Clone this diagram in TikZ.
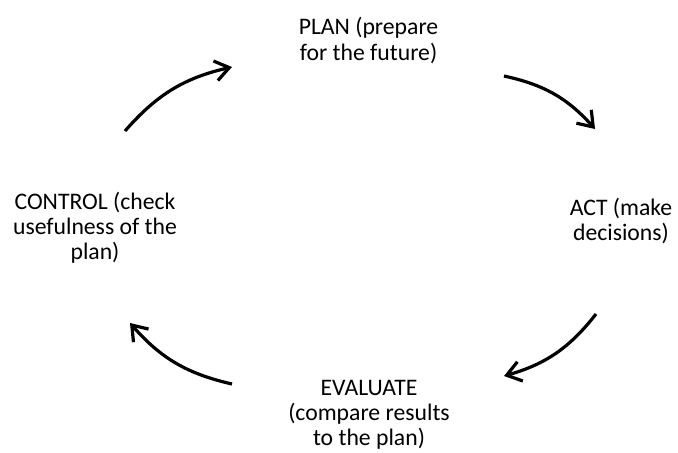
\documentclass[tikz,border=0pt]{standalone}
\usepackage{fontspec}
\setmainfont{Carlito}
\usepackage{tikz}
\usetikzlibrary{positioning}
\usetikzlibrary{arrows.meta}

\begin{document}
\begin{tikzpicture}
[
x=0.5pt, y=0.5pt,
stage/.style={align=center, inner sep=0pt, font=\fontsize{11.85}{12.6}\selectfont},
cycle/.style={-{Straight Barb[length=7pt, width=10pt, line width=1.6pt]}, line width=1.6pt},
]
\useasboundingbox (0,0) rectangle (678,452);
\node (plan) [stage] at (368.5,411.5) {PLAN (prepare\\for the future)};
\node (act)  [stage] at (621,231)     {ACT (make\\decisions)};
\node (eval) [stage] at (369,37)      {EVALUATE\\(compare results\\to the plan)};
\node (ctrl) [stage] at (95,224)      {CONTROL (check\\usefulness of the\\plan)};
\coordinate (c1s) at (125,321); \coordinate (c1e) at (232,385);
\coordinate (c2s) at (504,376); \coordinate (c2e) at (595,323);
\coordinate (c3s) at (596,138); \coordinate (c3e) at (504,76);
\coordinate (c4s) at (232,68);  \coordinate (c4e) at (130,129);
\path [cycle] (c1s) edge [bend left=18] (c1e);
\path [cycle] (c2s) edge [bend left=18] (c2e);
\path [cycle] (c3s) edge [bend left=18] (c3e);
\path [cycle] (c4s) edge [bend left=18] (c4e);
\end{tikzpicture}
\end{document}
